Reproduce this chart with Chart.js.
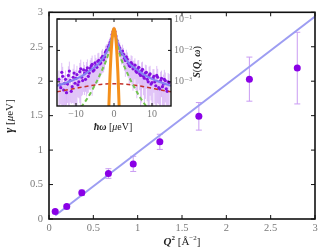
<!DOCTYPE html>
<html>
<head>
<meta charset="utf-8">
<script src="https://cdn.jsdelivr.net/npm/chart.js@4.4.0/dist/chart.umd.min.js"></script>
<style>
  html, body { margin: 0; padding: 0; background: #fff; }
  #wrap { position: relative; width: 321px; height: 250px; }
  #main { position: absolute; left: 0; top: 0; }
  #inset { position: absolute; left: 50px; top: 10px; }
</style>
</head>
<body>
<div id="wrap">
  <canvas id="main" width="321" height="250"></canvas>
  <canvas id="inset" width="160" height="125"></canvas>
</div>
<script>
// main panel: gamma vs Q^2
const q2 = [0.07, 0.20, 0.37, 0.67, 0.95, 1.25, 1.69, 2.26, 2.80];
const gamma = [0.11, 0.18, 0.38, 0.66, 0.80, 1.12, 1.49, 2.03, 2.19];
const gammaErr = [0.02, 0.03, 0.04, 0.07, 0.11, 0.11, 0.20, 0.32, 0.52];
const fitQ2 = [0.07, 3.0];
const fitGamma = [0.05, 2.94];
const mainTicks = [0, 0.5, 1, 1.5, 2, 2.5, 3];

// inset: spectrum S(Q,w)
const insetX1 = [-14.5, -14, -13.5, -13, -12.5, -12, -11.5, -11, -10.5, -10,
  -9.5, -9, -8.5, -8, -7.5, -7, -6.5, -6, -5.5, -5,
  -4.5, -4, -3.5, -3, -2.5, -2, -1.5, -1, -0.5, 0,
  0.5, 1, 1.5, 2, 2.5, 3, 3.5, 4, 4.5, 5,
  5.5, 6, 6.5, 7, 7.5, 8, 8.5, 9, 9.5, 10,
  10.5, 11, 11.5, 12, 12.5, 13, 13.5, 14, 14.5];
const insetY1 = [1.2e-3, 6.5e-4, 1.5e-3, 9.0e-4, 4.5e-4, 1.6e-3, 1.1e-3, 7.0e-4, 1.9e-3, 1.3e-3,
  8.0e-4, 2.1e-3, 1.4e-3, 2.4e-3, 1.2e-3, 2.8e-3, 1.9e-3, 3.2e-3, 2.2e-3, 4.0e-3,
  2.9e-3, 4.8e-3, 4.0e-3, 6.5e-3, 6.2e-3, 1.0e-2, 1.3e-2, 1.8e-2, 3.2e-2, 4.6e-2,
  2.9e-2, 1.6e-2, 1.2e-2, 7.8e-3, 7.5e-3, 4.8e-3, 5.2e-3, 3.3e-3, 4.1e-3, 2.6e-3,
  3.4e-3, 2.0e-3, 2.9e-3, 1.6e-3, 2.5e-3, 1.3e-3, 2.0e-3, 1.0e-3, 1.8e-3, 9.5e-4,
  1.5e-3, 7.5e-4, 1.4e-3, 6.0e-4, 1.3e-3, 8.5e-4, 1.1e-3, 5.0e-4, 9.5e-4];
const insetRel1 = [0.9, 0.7, 1.0, 0.8, 0.6, 0.95, 0.8, 0.7, 0.9, 0.85,
  0.6, 0.9, 0.75, 0.8, 0.6, 0.85, 0.7, 0.8, 0.65, 0.8,
  0.7, 0.75, 0.6, 0.7, 0.6, 0.55, 0.5, 0.45, 0.35, 0.25,
  0.35, 0.45, 0.5, 0.55, 0.6, 0.7, 0.65, 0.75, 0.7, 0.8,
  0.65, 0.85, 0.7, 0.9, 0.75, 0.85, 0.7, 0.95, 0.8, 0.9,
  0.7, 1.0, 0.85, 0.9, 0.75, 1.0, 0.8, 0.95, 0.85];

const insetX2 = [-14.25, -13.75, -13.25, -12.75, -12.25, -11.75, -11.25, -10.75, -10.25, -9.75,
  -9.25, -8.75, -8.25, -7.75, -7.25, -6.75, -6.25, -5.75, -5.25, -4.75,
  -4.25, -3.75, -3.25, -2.75, -2.25, -1.75, -1.25, -0.75, -0.25, 0.25,
  0.75, 1.25, 1.75, 2.25, 2.75, 3.25, 3.75, 4.25, 4.75, 5.25,
  5.75, 6.25, 6.75, 7.25, 7.75, 8.25, 8.75, 9.25, 9.75, 10.25,
  10.75, 11.25, 11.75, 12.25, 12.75, 13.25, 13.75, 14.25];
const insetY2 = [8.0e-4, 2.0e-3, 5.5e-4, 1.2e-3, 8.5e-4, 2.2e-3, 5.0e-4, 1.4e-3, 9.0e-4, 1.7e-3,
  1.0e-3, 2.6e-3, 1.1e-3, 1.9e-3, 2.3e-3, 1.5e-3, 2.7e-3, 3.6e-3, 2.4e-3, 3.3e-3,
  4.5e-3, 3.7e-3, 5.8e-3, 5.0e-3, 8.8e-3, 1.05e-2, 1.5e-2, 2.2e-2, 3.9e-2, 4.0e-2,
  2.1e-2, 1.4e-2, 9.0e-3, 9.5e-3, 5.6e-3, 6.2e-3, 3.9e-3, 3.1e-3, 3.7e-3, 2.8e-3,
  2.2e-3, 2.6e-3, 1.8e-3, 2.2e-3, 1.5e-3, 1.9e-3, 1.2e-3, 1.6e-3, 8.5e-4, 1.3e-3,
  1.0e-3, 1.6e-3, 6.5e-4, 1.1e-3, 7.0e-4, 1.2e-3, 6.0e-4, 1.0e-3];
const insetRel2 = [0.8, 1.0, 0.7, 0.9, 0.75, 1.0, 0.6, 0.85, 0.8, 0.9,
  0.7, 0.95, 0.65, 0.8, 0.85, 0.7, 0.8, 0.9, 0.7, 0.75,
  0.8, 0.65, 0.7, 0.6, 0.6, 0.5, 0.45, 0.4, 0.3, 0.3,
  0.4, 0.45, 0.5, 0.6, 0.6, 0.7, 0.65, 0.7, 0.8, 0.7,
  0.75, 0.85, 0.7, 0.9, 0.75, 0.85, 0.8, 0.9, 0.7, 0.95,
  0.8, 1.0, 0.7, 0.9, 0.75, 1.0, 0.7, 0.9];

const fitX = [-15, -13, -11, -9, -7, -5, -4, -3, -2, -1.5, -1, -0.5, 0,
  0.5, 1, 1.5, 2, 3, 4, 5, 7, 9, 11, 13, 15];
const fitY = [7.5e-4, 9e-4, 1.1e-3, 1.4e-3, 2.0e-3, 3.0e-3, 3.8e-3, 5.5e-3, 8.5e-3, 1.15e-2, 1.7e-2, 3.0e-2, 4.5e-2,
  3.0e-2, 1.7e-2, 1.15e-2, 8.5e-3, 5.5e-3, 3.8e-3, 3.0e-3, 2.0e-3, 1.4e-3, 1.1e-3, 9e-4, 7.5e-4];
const narrowX = [-10, -9, -8, -7, -6, -5, -4, -3, -2, -1, -0.5, 0,
  0.5, 1, 2, 3, 4, 5, 6, 7, 8, 9, 10];
const narrowY = [1.1e-4, 1.4e-4, 2.0e-4, 3.0e-4, 4.8e-4, 8.0e-4, 1.4e-3, 2.6e-3, 5.0e-3, 1.3e-2, 2.5e-2, 4.0e-2,
  2.5e-2, 1.3e-2, 5.0e-3, 2.6e-3, 1.4e-3, 8.0e-4, 4.8e-4, 3.0e-4, 2.0e-4, 1.4e-4, 1.1e-4];
const broadX = [-15, -12, -9, -6, -3, 0, 3, 6, 9, 12, 15];
const broadY = [4.8e-4, 5.6e-4, 6.6e-4, 7.6e-4, 8.4e-4, 8.7e-4, 8.4e-4, 7.6e-4, 6.6e-4, 5.6e-4, 4.8e-4];
const resX = [-1.4, -1.2, -1, -0.8, -0.6, -0.4, -0.2, 0, 0.2, 0.4, 0.6, 0.8, 1, 1.2, 1.4];
const resY = [1.1e-4, 5.6e-4, 2.2e-3, 6.8e-3, 1.6e-2, 3.0e-2, 4.4e-2, 5.0e-2, 4.4e-2, 3.0e-2, 1.6e-2, 6.8e-3, 2.2e-3, 5.6e-4, 1.1e-4];

const insetXTicks = [-10, 0, 10];
const insetXTickLabels = ['\u221210', '0', '10'];
const insetYTicks = [1e-3, 1e-2, 1e-1];
const insetYTickLabels = ['10\u207B\u00B3', '10\u207B\u00B2', '10\u207B\u00B9'];

const SERIF = '"Liberation Serif", "DejaVu Serif", serif';
const pts = (xs, ys) => xs.map((x, i) => ({ x: x, y: ys[i] }));

// draws vertical error bars under the points
const errorBars = {
  id: 'errorBars',
  beforeDatasetsDraw(chart) {
    const ctx = chart.ctx;
    const yScale = chart.scales.y;
    const a = chart.chartArea;
    chart.data.datasets.forEach((ds, i) => {
      if (!ds.errors) return;
      const meta = chart.getDatasetMeta(i);
      ctx.save();
      ctx.strokeStyle = ds.errorColor;
      ctx.lineWidth = 1;
      ctx.beginPath();
      meta.data.forEach((pt, j) => {
        const v = ds.data[j].y, e = ds.errors[j];
        let top = Math.max(yScale.getPixelForValue(v + e), a.top);
        let bot = v - e > 0 ? Math.min(yScale.getPixelForValue(v - e), a.bottom) : a.bottom;
        ctx.moveTo(pt.x, top);
        ctx.lineTo(pt.x, bot);
        if (ds.capWidth) {
          ctx.moveTo(pt.x - ds.capWidth, top);
          ctx.lineTo(pt.x + ds.capWidth, top);
          ctx.moveTo(pt.x - ds.capWidth, bot);
          ctx.lineTo(pt.x + ds.capWidth, bot);
        }
      });
      ctx.stroke();
      ctx.restore();
    });
  }
};

// box around the plot with inward ticks on all four sides
const frame = {
  id: 'frame',
  afterDraw(chart, args, opts) {
    const ctx = chart.ctx;
    const a = chart.chartArea;
    const x = chart.scales.x, y = chart.scales.y;
    const L = opts.tickLength;
    ctx.save();
    ctx.strokeStyle = '#111';
    ctx.lineWidth = 1;
    ctx.beginPath();
    opts.xTicks.forEach(v => {
      const px = x.getPixelForValue(v);
      ctx.moveTo(px, a.bottom); ctx.lineTo(px, a.bottom - L);
      ctx.moveTo(px, a.top); ctx.lineTo(px, a.top + L);
    });
    opts.yTicks.forEach(v => {
      const py = y.getPixelForValue(v);
      ctx.moveTo(a.left, py); ctx.lineTo(a.left + L, py);
      ctx.moveTo(a.right, py); ctx.lineTo(a.right - L, py);
    });
    ctx.stroke();
    ctx.lineWidth = opts.lineWidth;
    ctx.strokeRect(a.left, a.top, a.right - a.left, a.bottom - a.top);
    ctx.restore();
  }
};

// text made of parts with different fonts, centred on (x, y)
function drawRich(ctx, parts, x, y, rotate) {
  ctx.save();
  ctx.translate(x, y);
  if (rotate) ctx.rotate(-Math.PI / 2);
  ctx.fillStyle = '#222';
  ctx.textBaseline = 'middle';
  let w = 0;
  parts.forEach(p => { ctx.font = p[1]; w += ctx.measureText(p[0]).width; });
  let cx = -w / 2;
  parts.forEach(p => {
    ctx.font = p[1];
    ctx.fillText(p[0], cx, p[2] || 0);
    cx += ctx.measureText(p[0]).width;
  });
  ctx.restore();
}

const mainTitles = {
  id: 'mainTitles',
  afterDraw(chart) {
    const ctx = chart.ctx;
    drawRich(ctx, [
      ['Q', 'bold italic 11px ' + SERIF],
      ['2', 'bold 7px ' + SERIF, -4],
      [' [\u00C5', '11px ' + SERIF],
      ['\u22122', '7px ' + SERIF, -4],
      [']', '11px ' + SERIF]
    ], 182, 242, false);
    drawRich(ctx, [
      ['\u03B3', 'bold italic 12px ' + SERIF],
      [' [', '11px ' + SERIF],
      ['\u03BC', 'italic 11px ' + SERIF],
      ['eV]', '11px ' + SERIF]
    ], 10, 116, true);
  }
};

const insetTitles = {
  id: 'insetTitles',
  afterDraw(chart) {
    const ctx = chart.ctx;
    drawRich(ctx, [
      ['\u0127\u03C9', 'bold italic 10px ' + SERIF],
      [' [', '10px ' + SERIF],
      ['\u03BC', 'italic 10px ' + SERIF],
      ['eV]', '10px ' + SERIF]
    ], 63, 117, false);
    drawRich(ctx, [
      ['S', 'bold italic 10px ' + SERIF],
      ['(', '10px ' + SERIF],
      ['Q', 'bold italic 10px ' + SERIF],
      [', ', '10px ' + SERIF],
      ['\u03C9', 'bold italic 10px ' + SERIF],
      [')', '10px ' + SERIF]
    ], 147, 52, true);
  }
};

const insetBackground = {
  id: 'insetBackground',
  beforeDraw(chart) {
    const a = chart.chartArea;
    chart.ctx.save();
    chart.ctx.fillStyle = '#fff';
    chart.ctx.fillRect(a.left, a.top, a.right - a.left, a.bottom - a.top);
    chart.ctx.restore();
  }
};

const tickFont = { family: SERIF, size: 10.5 };

new Chart(document.getElementById('main'), {
  type: 'scatter',
  data: {
    datasets: [{
      data: pts(q2, gamma),
      errors: gammaErr,
      errorColor: '#c99bf3',
      capWidth: 3,
      pointRadius: 3.5,
      pointBackgroundColor: '#8a00e6',
      pointBorderWidth: 0,
      order: 0
    }, {
      data: pts(fitQ2, fitGamma),
      showLine: true,
      borderColor: '#9d9df2',
      borderWidth: 2,
      pointRadius: 0,
      order: 1
    }]
  },
  options: {
    responsive: false,
    animation: false,
    events: [],
    layout: { padding: { left: 0, top: 9, right: 6, bottom: 0 } },
    plugins: {
      legend: { display: false },
      tooltip: { enabled: false },
      frame: { xTicks: mainTicks, yTicks: mainTicks, tickLength: 4, lineWidth: 1.6 }
    },
    scales: {
      x: {
        type: 'linear', min: 0, max: 3,
        afterFit: s => { s.height = 31; },
        afterBuildTicks: s => { s.ticks = mainTicks.map(v => ({ value: v })); },
        grid: { display: false, drawTicks: false },
        border: { display: false },
        ticks: { color: '#7a7a7a', font: tickFont, padding: 3, maxRotation: 0, autoSkip: false,
          callback: v => String(v) }
      },
      y: {
        type: 'linear', min: 0, max: 3,
        afterFit: s => { s.width = 49; },
        afterBuildTicks: s => { s.ticks = mainTicks.map(v => ({ value: v })); },
        grid: { display: false, drawTicks: false },
        border: { display: false },
        ticks: { color: '#7a7a7a', font: tickFont, padding: 6, autoSkip: false,
          callback: v => String(v) }
      }
    }
  },
  plugins: [errorBars, frame, mainTitles]
});

const lineDs = (xs, ys, color, width, dash, order) => ({
  data: pts(xs, ys),
  showLine: true,
  borderColor: color,
  borderWidth: width,
  borderDash: dash,
  pointRadius: 0,
  cubicInterpolationMode: 'monotone',
  order: order
});

const pointDs = (xs, ys, rel, order) => ({
  data: pts(xs, ys),
  errors: ys.map((v, i) => v * rel[i]),
  errorColor: 'rgba(196, 140, 240, 0.55)',
  pointRadius: 1.6,
  pointBackgroundColor: '#8410e0',
  pointBorderWidth: 0,
  order: order
});

new Chart(document.getElementById('inset'), {
  type: 'scatter',
  data: {
    datasets: [
      pointDs(insetX1, insetY1, insetRel1, 5),
      pointDs(insetX2, insetY2, insetRel2, 4),
      lineDs(fitX, fitY, '#8383f0', 2, [], 3),
      lineDs(broadX, broadY, '#c4302a', 1.5, [4, 3], 2),
      lineDs(narrowX, narrowY, '#74c450', 2, [4, 3], 1),
      lineDs(resX, resY, '#f4901c', 3, [], 0)
    ]
  },
  options: {
    responsive: false,
    animation: false,
    events: [],
    layout: { padding: { left: 7, top: 8, right: 0, bottom: 0 } },
    plugins: {
      legend: { display: false },
      tooltip: { enabled: false },
      frame: { xTicks: insetXTicks, yTicks: insetYTicks, tickLength: 3, lineWidth: 1.4 }
    },
    scales: {
      x: {
        type: 'linear', min: -15, max: 15,
        afterFit: s => { s.height = 29; },
        afterBuildTicks: s => { s.ticks = insetXTicks.map(v => ({ value: v })); },
        grid: { display: false, drawTicks: false },
        border: { display: false },
        ticks: { color: '#7a7a7a', font: { family: SERIF, size: 10 }, padding: 2, maxRotation: 0, autoSkip: false,
          callback: (v, i) => insetXTickLabels[i] }
      },
      y: {
        type: 'logarithmic', position: 'right', min: 1.7e-4, max: 0.1,
        afterFit: s => { s.width = 39; },
        afterBuildTicks: s => { s.ticks = insetYTicks.map(v => ({ value: v })); },
        grid: { display: false, drawTicks: false },
        border: { display: false },
        ticks: { color: '#7a7a7a', font: { family: SERIF, size: 10 }, padding: 3, autoSkip: false,
          callback: (v, i) => insetYTickLabels[i] }
      }
    }
  },
  plugins: [insetBackground, errorBars, frame, insetTitles]
});
</script>
</body>
</html>
